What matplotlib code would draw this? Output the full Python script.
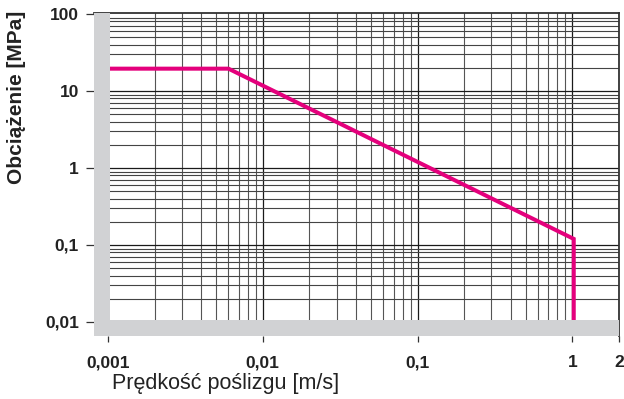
import matplotlib.pyplot as plt
import numpy as np

# load curve: P [MPa] vs sliding speed v [m/s]
speed = [0.001, 0.006, 1.02, 1.02]
load = [19.5, 19.5, 0.12, 0.01]

x_ticks = [0.001, 0.01, 0.1, 1, 2]
x_labels = ['0,001', '0,01', '0,1', '1', '2']
y_ticks = [0.01, 0.1, 1, 10, 100]
y_labels = ['0,01', '0,1', '1', '10', '100']

magenta = '#e4007c'
band = '#d1d2d4'

plt.rcParams['font.family'] = ['Liberation Sans', 'DejaVu Sans']

fig = plt.figure(figsize=(6.24, 3.99), dpi=100)
W, H = 624, 399
# axes box in pixels: left 94, right 619, top 13, bottom 336
ax = fig.add_axes([94 / W, 1 - 336 / H, (619 - 94) / W, (336 - 13) / H])
ax.set_xscale('log')
ax.set_yscale('log')

xdec = 154.8  # px per decade
ydec = 77.0
ax.set_xlim(10 ** (-3 - 14 / xdec), 2)
ax.set_ylim(10 ** (-2 - 14 / ydec), 10 ** (-2 + 309 / ydec))

# grid
for e in range(-3, 1):
    for m in range(1, 10):
        v = m * 10.0 ** e
        if v > 2:
            break
        ax.axvline(v, color='#1a1a1a' if m == 1 else '#555555',
                   lw=0.9 if m == 1 else 0.8, zorder=1)
ax.axvline(2, color='#555555', lw=0.8, zorder=1)
for e in range(-2, 2):
    for m in range(1, 10):
        v = m * 10.0 ** e
        ax.axhline(v, color='#1a1a1a' if m == 1 else '#444444',
                   lw=0.9 if m == 1 else 0.8, zorder=1)

ax.plot(speed, load, color=magenta, lw=2.9, solid_joinstyle='miter', zorder=2)

# grey L-band along left and bottom
ax.axvspan(ax.get_xlim()[0], 10 ** (-3 + 2 / xdec), color=band, lw=0, zorder=3)
ax.axhspan(ax.get_ylim()[0], 10 ** (-2 + 2 / ydec), color=band, lw=0, zorder=3)

for s in ['left', 'bottom']:
    ax.spines[s].set_visible(False)
for s in ['top', 'right']:
    ax.spines[s].set_color('#333333')
    ax.spines[s].set_linewidth(1.3)

ax.xaxis.set_minor_locator(plt.NullLocator())
ax.yaxis.set_minor_locator(plt.NullLocator())
ax.set_xticks(x_ticks)
ax.set_xticklabels(x_labels)
ax.set_yticks(y_ticks)
ax.set_yticklabels(y_labels)
ax.tick_params(axis='x', length=4.3, width=0.9, color='#333333', pad=9.5)
ax.tick_params(axis='y', length=5.8, width=0.9, color='#333333', pad=5)
for lab in ax.get_xticklabels() + ax.get_yticklabels():
    lab.set_fontweight('bold')
    lab.set_fontsize(12.5)
    lab.set_color('#222222')

fig.text(112 / W, 1 - 383 / H, 'Prędkość poślizgu [m/s]', fontsize=15.5,
         color='#222222', ha='left', va='center')
fig.text(17 / W, 1 - 97 / H, 'Obciążenie [MPa]', fontsize=15,
         fontweight='bold', color='#222222',
         rotation=90, ha='center', va='center')

fig.savefig('out.png', dpi=100)
